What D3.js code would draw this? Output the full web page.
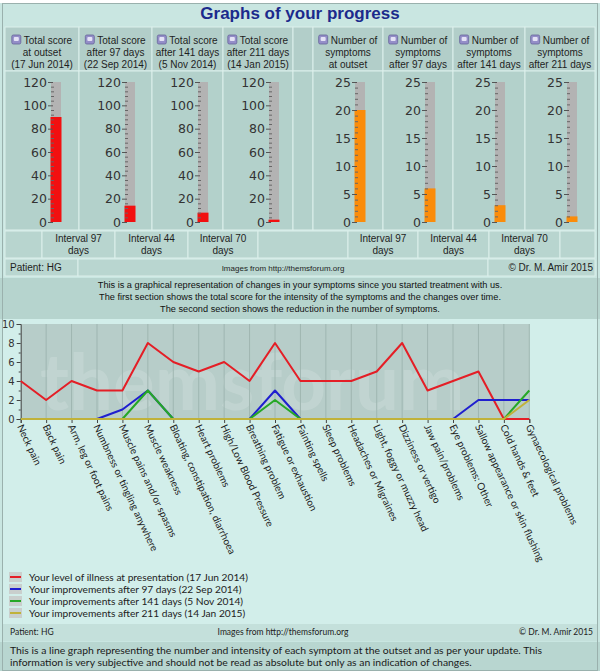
<!DOCTYPE html>
<html><head><meta charset="utf-8">
<script src="https://cdn.jsdelivr.net/npm/d3@7"></script>
<style>body{margin:0;background:#fff}svg{display:block}</style>
</head><body>
<svg id="c" width="600" height="671"></svg>
<script>
// ---------- DATA ----------
const title = "Graphs of your progress";
const scoreHeaders = [
  ["Total score","at outset","(17 Jun 2014)"],
  ["Total score","after 97 days","(22 Sep 2014)"],
  ["Total score","after 141 days","(5 Nov 2014)"],
  ["Total score","after 211 days","(14 Jan 2015)"]
];
const symptomHeaders = [
  ["Number of","symptoms","at outset"],
  ["Number of","symptoms","after 97 days"],
  ["Number of","symptoms","after 141 days"],
  ["Number of","symptoms","after 211 days"]
];
const totalScores = [90, 14, 8, 2];
const symptomCounts = [20, 6, 3, 1];
const scoreTicks = [0, 20, 40, 60, 80, 100, 120];
const symptomTicks = [0, 5, 10, 15, 20, 25];
const intervalLabels = [["Interval 97","days"],["Interval 44","days"],["Interval 70","days"]];
const paragraph1 = [
  "This is a graphical representation of changes in your symptoms since you started treatment with us.",
  "The first section shows the total score for the intensity of the symptoms and the changes over time.",
  "The second section shows the reduction in the number of symptoms."
];
const categories = [
  "Neck pain","Back pain","Arm, leg or foot pains","Numbness or tingling anywhere",
  "Muscle pains and/or spasms","Muscle weakness","Bloating, constipation, diarrhoea",
  "Heart problems","High/Low Blood Pressure","Breathing problem","Fatigue or exhaustion",
  "Fainting spells","Sleep problems","Headaches or Migraines","Light, foggy or muzzy head",
  "Dizziness or vertigo","Jaw pain/problems","Eye problems: Other",
  "Sallow appearance or skin flushing","Cold hands & feet","Gynaecological problems"
];
const outsetLevels   = [4,2,4,3,3,8,6,5,6,4,8,4,4,4,5,8,3,4,5,0,0];
const after97Levels  = [0,0,0,0,1,3,0,0,0,0,3,0,0,0,0,0,0,0,2,2,2];
const after141Levels = [0,0,0,0,0,3,0,0,0,0,2,0,0,0,0,0,0,0,0,0,3];
const after211Levels = [0,0,0,0,0,0,0,0,0,0,0,0,0,0,0,0,0,0,0,0,2];
const seriesNames = [
  "Your level of illness at presentation (17 Jun 2014)",
  "Your improvements after 97 days (22 Sep 2014)",
  "Your improvements after 141 days (5 Nov 2014)",
  "Your improvements after 211 days (14 Jan 2015)"
];
const lineTicks = [0,2,4,6,8,10];
const patientLabel = "Patient: HG";
const imagesLabel = "Images from http://themsforum.org";
const copyrightLabel = "\u00A9 Dr. M. Amir 2015";
const paragraph2 = [
  "This is a line graph representing the number and intensity of each symptom at the outset and as per your update. This",
  "information is very subjective and should not be read as absolute but only as an indication of changes."
];

// ---------- STYLE / LAYOUT ----------
const seriesColors = ["#e41e26","#1f1fcf","#26a826","#c0b23a"];
const ARIAL = "Liberation Sans, Arial, sans-serif";
const HUM = "Lato, sans-serif";
const cellStroke = "#dcefeb";

const svg = d3.select("#c");
svg.append("rect").attr("width",600).attr("height",671).attr("fill","#c9e6e1");
svg.append("rect").attr("width",600).attr("height",3).attr("fill","#fff");

// title
svg.append("text").attr("x",300).attr("y",19).attr("text-anchor","middle")
  .attr("font-family",ARIAL).attr("font-weight","bold").attr("font-size",17)
  .attr("fill","#1b2a8c").text(title);

// table columns
const leftCols = [[5,79],[79,152],[152,223],[223,293]];
const rightCols = [[313,383],[383,453],[453,525],[525,595]];
const gapCol = [293,313];
const hdrY0 = 27, hdrY1 = 71, thY1 = 230;

function cell(x0,x1,y0,y1,fill){
  svg.append("rect").attr("x",x0).attr("y",y0).attr("width",x1-x0).attr("height",y1-y0)
    .attr("fill",fill).attr("stroke",cellStroke).attr("stroke-width",1);
}
[...leftCols, gapCol, ...rightCols].forEach(c=>{
  cell(c[0],c[1],hdrY0,hdrY1,"#b2cec9");
  cell(c[0],c[1],hdrY1,thY1,"#b3d1cb");
});

function icon(g,x,y){
  g.append("rect").attr("x",x).attr("y",y).attr("width",9).attr("height",9).attr("rx",1.5)
    .attr("fill","#948ec8").attr("stroke","#66669a").attr("stroke-width",0.8);
  g.append("rect").attr("x",x+2).attr("y",y+2).attr("width",5).attr("height",4).attr("rx",1)
    .attr("fill","#e4e2f6");
}
function header(cols, headers){
  cols.forEach((c,i)=>{
    const cx=(c[0]+c[1])/2;
    const g=svg.append("g");
    headers[i].forEach((ln,j)=>{
      const t=g.append("text").attr("x",cx+(j===0?6:0)).attr("y",44+j*12)
        .attr("text-anchor","middle").attr("font-family",ARIAL).attr("font-size",10)
        .attr("fill","#1e1e1e").text(ln);
      if(j===0){
        const w=t.node().getComputedTextLength();
        icon(g,cx+6-w/2-12,35);
      }
    });
  });
}
header(leftCols, scoreHeaders);
header(rightCols, symptomHeaders);

// thermometers
const yScore = d3.scaleLinear().domain([0,120]).range([222,82]);
const ySym = d3.scaleLinear().domain([0,25]).range([222,82]);
function thermo(cols, values, scale, ticks, minorStep, color, off){
  cols.forEach((c,i)=>{
    const bx=c[0]+off;
    const g=svg.append("g").attr("transform",`translate(${bx},0)`);
    const [d0,d1]=scale.domain();
    g.append("rect").attr("x",0).attr("y",scale(d1)).attr("width",10)
      .attr("height",scale(d0)-scale(d1)).attr("fill","#b3b3b3");
    g.append("rect").attr("x",-0.5).attr("y",scale(values[i])).attr("width",11)
      .attr("height",scale(0)-scale(values[i])).attr("fill",color);
    const minors=d3.range(d0,d1+0.001,minorStep).filter(v=>!ticks.includes(v));
    const mg=g.append("g").attr("transform","translate(3,0)")
      .call(d3.axisLeft(scale).tickValues(minors).tickSize(3).tickFormat(""));
    mg.select(".domain").remove();
    mg.selectAll("line").attr("stroke","#666");
    const ag=g.append("g").attr("transform","translate(2,0)")
      .call(d3.axisLeft(scale).tickValues(ticks).tickSize(5).tickPadding(1));
    ag.select(".domain").remove();
    ag.selectAll("line").attr("stroke","#555");
    ag.selectAll("text").attr("font-family","DejaVu Sans, sans-serif").attr("font-size",12.5).attr("fill","#333");
  });
}
thermo(leftCols, totalScores, yScore, scoreTicks, 4, "#f21010", 46);
thermo(rightCols, symptomCounts, ySym, symptomTicks, 1, "#fb8c0a", 42);

// interval row
const intCells=[[5,42],[42,115],[115,188],[188,258],[258,348],[348,418],[418,489],[489,560],[560,595]];
const intTextIdx={1:0,2:1,3:2,5:0,6:1,7:2};
intCells.forEach((c,i)=>{
  cell(c[0],c[1],231,258,"#b8d5cf");
  if(intTextIdx[i]!==undefined){
    intervalLabels[intTextIdx[i]].forEach((ln,j)=>{
      svg.append("text").attr("x",(c[0]+c[1])/2).attr("y",242+j*12).attr("text-anchor","middle")
        .attr("font-family",ARIAL).attr("font-size",10).attr("fill","#1e1e1e").text(ln);
    });
  }
});
// patient row (top)
[[5,78],[78,488],[488,595]].forEach(c=>cell(c[0],c[1],259,276,"#b9d6d0"));
svg.append("text").attr("x",10).attr("y",271).attr("font-family",ARIAL).attr("font-size",10).attr("fill","#1e1e1e").text(patientLabel);
svg.append("text").attr("x",283).attr("y",271).attr("text-anchor","middle").attr("font-family",ARIAL).attr("font-size",8).attr("fill","#1e1e1e").text(imagesLabel);
svg.append("text").attr("x",593).attr("y",271).attr("text-anchor","end").attr("font-family",ARIAL).attr("font-size",10).attr("fill","#1e1e1e").text(copyrightLabel);

// paragraph 1
svg.append("rect").attr("x",0).attr("y",278).attr("width",600).attr("height",41).attr("fill","#b6d4ce");
paragraph1.forEach((ln,i)=>{
  svg.append("text").attr("x",300).attr("y",288+i*12).attr("text-anchor","middle")
    .attr("font-family",ARIAL).attr("font-size",9.2).attr("fill","#111").text(ln);
});

// line chart region
svg.append("rect").attr("x",3).attr("y",319).attr("width",594).attr("height",305).attr("fill","#d2eeea");
const x = d3.scalePoint().domain(categories).range([20.7,529.3]);
const y = d3.scaleLinear().domain([0,10]).range([419,324]);
svg.append("rect").attr("x",x.range()[0]).attr("y",y(10)).attr("width",x.range()[1]-x.range()[0])
  .attr("height",y(0)-y(10)).attr("fill","#b7cdc9");
// watermark
svg.append("text").attr("x",40).attr("y",410).attr("font-family",HUM).attr("font-weight","bold")
  .attr("font-size",78).attr("fill","#ffffff").attr("opacity",0.15).text("themsforum");
svg.append("g").selectAll("line").data(categories.slice(1)).join("line")
  .attr("x1",d=>x(d)).attr("x2",d=>x(d)).attr("y1",y(10)).attr("y2",y(0))
  .attr("stroke","#9fb6b1").attr("stroke-width",1);

// y axis
const ya=svg.append("g").attr("transform",`translate(${x.range()[0]},0)`)
  .call(d3.axisLeft(y).tickValues(lineTicks).tickSize(4).tickPadding(2));
ya.select(".domain").attr("stroke","#444");
ya.selectAll("line").attr("stroke","#444");
ya.selectAll("text").attr("font-family","DejaVu Sans, sans-serif").attr("font-size",10).attr("fill","#333");
const ym=svg.append("g").attr("transform",`translate(${x.range()[0]},0)`)
  .call(d3.axisLeft(y).tickValues([1,3,5,7,9]).tickSize(2).tickFormat(""));
ym.select(".domain").remove(); ym.selectAll("line").attr("stroke","#444");

// x axis
const xa=svg.append("g").attr("transform",`translate(0,${y(0)})`)
  .call(d3.axisBottom(x).tickSize(4).tickFormat(""));
xa.select(".domain").attr("stroke","#444");
xa.selectAll("line").attr("stroke","#444");
svg.append("g").selectAll("text").data(categories).join("text")
  .attr("transform",d=>`translate(${x(d)-1},${y(0)+5}) rotate(65)`)
  .attr("dy","0.35em").attr("x",1)
  .attr("font-family",HUM).attr("font-size",10).attr("fill","#222").text(d=>d);

// lines
const allSeries=[outsetLevels, after97Levels, after141Levels, after211Levels];
const line=d3.line().x((d,i)=>x(categories[i])).y(d=>y(d));
allSeries.forEach((s,k)=>{
  svg.append("path").datum(s).attr("d",line).attr("fill","none")
    .attr("stroke",seriesColors[k]).attr("stroke-width",2).attr("stroke-linejoin","round");
});

// legend
seriesNames.forEach((n,i)=>{
  const ly=578+i*12;
  svg.append("rect").attr("x",9).attr("y",ly-6).attr("width",13).attr("height",10).attr("fill","#c9cfcd");
  svg.append("line").attr("x1",10).attr("x2",21).attr("y1",ly-1).attr("y2",ly-1)
    .attr("stroke",seriesColors[i]).attr("stroke-width",2);
  svg.append("text").attr("x",29).attr("y",ly+3).attr("font-family",HUM).attr("font-size",10.2)
    .attr("fill","#222").text(n);
});

// bottom patient row
svg.append("rect").attr("x",3).attr("y",624).attr("width",594).attr("height",17).attr("fill","#c4e0db");
svg.append("text").attr("x",10).attr("y",635).attr("font-family",HUM).attr("font-size",8.5).attr("fill","#222").text(patientLabel);
svg.append("text").attr("x",283).attr("y",635).attr("text-anchor","middle").attr("font-family",HUM).attr("font-size",8.5).attr("fill","#222").text(imagesLabel);
svg.append("text").attr("x",593).attr("y",635).attr("text-anchor","end").attr("font-family",HUM).attr("font-size",8.5).attr("fill","#222").text(copyrightLabel);

// bottom paragraph
svg.append("rect").attr("x",0).attr("y",642).attr("width",600).attr("height",29).attr("fill","#b8d6d0");
paragraph2.forEach((ln,i)=>{
  svg.append("text").attr("x",10).attr("y",654+i*12).attr("font-family",HUM).attr("font-size",10.4)
    .attr("fill","#1a1a1a").text(ln);
});

// outer frame
svg.append("rect").attr("x",2.5).attr("y",3.5).attr("width",595).attr("height",667)
  .attr("fill","none").attr("stroke","#9ab1ad").attr("stroke-width",1);
</script>
</body></html>
